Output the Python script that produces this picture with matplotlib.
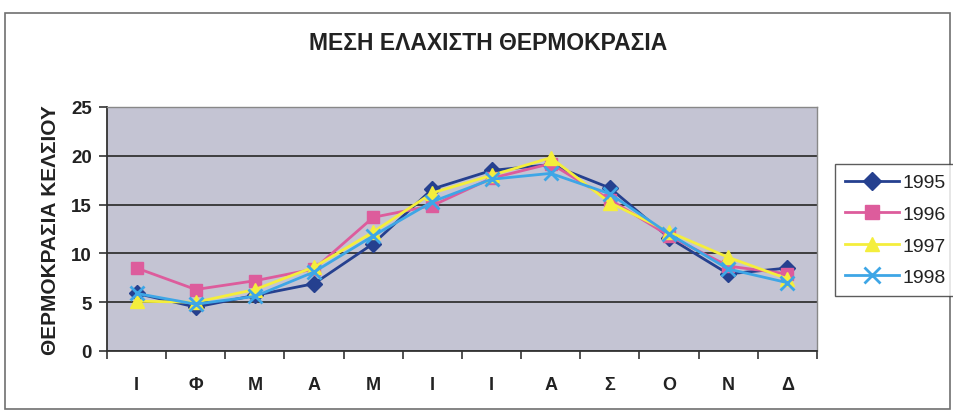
import matplotlib
matplotlib.use("Agg")
import matplotlib.pyplot as plt
from matplotlib.patches import Rectangle

months = ["Ι", "Φ", "Μ", "Α", "Μ", "Ι", "Ι", "Α", "Σ", "Ο", "Ν", "Δ"]
y1995 = [5.9, 4.5, 5.7, 6.9, 11.0, 16.6, 18.5, 19.1, 16.7, 11.6, 7.9, 8.5]
y1996 = [8.5, 6.3, 7.2, 8.4, 13.7, 14.9, 17.7, 19.2, 15.5, 11.8, 8.7, 7.9]
y1997 = [5.1, 5.0, 6.3, 8.6, 12.2, 16.2, 18.0, 19.8, 15.2, 12.2, 9.6, 7.4]
y1998 = [5.9, 4.8, 5.6, 8.1, 11.8, 15.3, 17.6, 18.2, 16.1, 12.0, 8.4, 7.0]
series_labels = ["1995", "1996", "1997", "1998"]
yticks = [0, 5, 10, 15, 20, 25]
title = "ΜΕΣΗ ΕΛΑΧΙΣΤΗ ΘΕΡΜΟΚΡΑΣΙΑ"
ylabel = "ΘΕΡΜΟΚΡΑΣΙΑ ΚΕΛΣΙΟΥ"

plt.rcParams['font.family'] = ['Liberation Sans', 'DejaVu Sans']

fig = plt.figure(figsize=(9.54, 4.14), dpi=100)
fig.patch.set_facecolor("white")
fig.patches.append(Rectangle((5/954, 1-410/414), 945/954, (410-14)/414,
                             transform=fig.transFigure, fill=False,
                             edgecolor="#707070", linewidth=1.2))

ax = fig.add_axes([107/954, 1-352/414, 710/954, 244/414])
ax.set_facecolor("#c4c4d3")

x = list(range(len(months)))
styles = [
    (y1995, "#25408f", "D", 8.5),
    (y1996, "#dd5c9c", "s", 9),
    (y1997, "#f4ee3c", "^", 9.5),
    (y1998, "#3ea6e6", "x", 10),
]
for (vals, col, mk, ms), lab in zip(styles, series_labels):
    if mk == "x":
        ax.plot(x, vals, color=col, marker=mk, markersize=ms, linewidth=2,
                markeredgewidth=2, label=lab, zorder=3)
    else:
        ax.plot(x, vals, color=col, marker=mk, markersize=ms, linewidth=2,
                markeredgecolor=col, label=lab, zorder=3)

ax.set_xlim(-0.5, len(months) - 0.5)
ax.set_ylim(0, 25)
ax.set_yticks(yticks)
ax.set_yticklabels([str(v) for v in yticks], fontsize=13.5, fontweight="bold", color="#222222")
ax.set_xticks(x)
ax.set_xticklabels(months, fontsize=13, fontweight="bold", color="#222222")
ax.set_xticks([i - 0.5 for i in range(len(months) + 1)], minor=True)
ax.tick_params(axis="x", which="major", length=0, pad=18)
ax.tick_params(axis="x", which="minor", length=6, width=1.2, direction="out", color="#333333")
ax.tick_params(axis="y", length=6, width=1.2, direction="out", color="#333333", pad=5)
ax.yaxis.grid(True, color="#333333", linewidth=1.3)
ax.set_axisbelow(True)
for side in ["top", "right"]:
    ax.spines[side].set_color("#888888")
    ax.spines[side].set_linewidth(1.0)
for side in ["left", "bottom"]:
    ax.spines[side].set_color("#333333")
    ax.spines[side].set_linewidth(1.3)

ax.set_ylabel(ylabel, fontsize=15, fontweight="bold", color="#222222", labelpad=8)
fig.text(488/954, 1-44/414, title, ha="center", va="center", fontsize=16.5,
         fontweight="bold", color="#222222")

leg = fig.legend(loc="upper left", bbox_to_anchor=(835/954, 1-165/414),
                 fontsize=14, frameon=True, fancybox=False, handlelength=2.8,
                 handletextpad=0.15, borderpad=0.5, labelspacing=0.72,
                 borderaxespad=0, markerscale=1.1)
leg.get_frame().set_edgecolor("#333333")
leg.get_frame().set_linewidth(1.0)
for t in leg.get_texts():
    t.set_color("#222222")

fig.savefig("out.png", dpi=100, facecolor="white")
